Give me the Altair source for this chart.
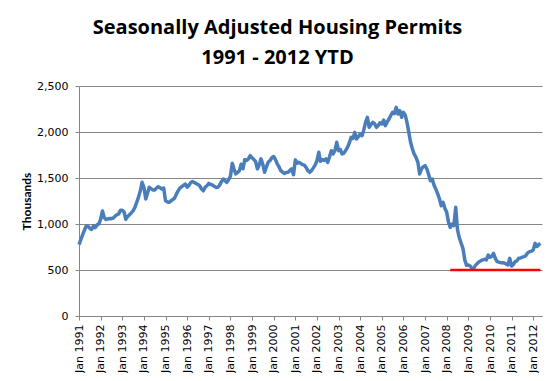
import altair as alt
import pandas as pd

# Monthly seasonally adjusted housing permits (thousands)
y1991 = [777, 830, 880, 930, 975, 975, 955, 940, 978, 960, 990, 1000]
y1992 = [1050, 1142, 1070, 1050, 1055, 1060, 1058, 1065, 1085, 1100, 1110, 1150]
y1993 = [1150, 1130, 1050, 1080, 1100, 1120, 1142, 1180, 1234, 1290, 1360, 1453]
y1994 = [1400, 1272, 1330, 1399, 1385, 1370, 1370, 1390, 1406, 1395, 1380, 1390]
y1995 = [1254, 1240, 1236, 1250, 1265, 1280, 1320, 1360, 1390, 1405, 1420, 1435]
y1996 = [1400, 1420, 1450, 1463, 1450, 1441, 1430, 1415, 1380, 1361, 1400, 1416]
y1997 = [1441, 1430, 1425, 1410, 1398, 1400, 1420, 1460, 1489, 1470, 1453, 1480]
y1998 = [1520, 1660, 1600, 1544, 1560, 1580, 1650, 1600, 1700, 1690, 1708, 1745]
y1999 = [1719, 1700, 1680, 1599, 1640, 1708, 1650, 1562, 1620, 1672, 1690, 1720]
y2000 = [1734, 1700, 1653, 1620, 1580, 1562, 1550, 1560, 1562, 1580, 1599, 1536]
y2001 = [1697, 1660, 1670, 1660, 1645, 1640, 1615, 1580, 1562, 1580, 1610, 1640]
y2002 = [1688, 1779, 1681, 1700, 1690, 1707, 1670, 1730, 1797, 1761, 1800, 1888]
y2003 = [1797, 1810, 1761, 1770, 1800, 1833, 1880, 1942, 1930, 1996, 1924, 1950]
y2004 = [1978, 1960, 2020, 2105, 2159, 2051, 2080, 2105, 2090, 2051, 2070, 2100]
y2005 = [2087, 2130, 2069, 2110, 2141, 2180, 2214, 2200, 2268, 2196, 2232, 2160]
y2006 = [2214, 2180, 2105, 1996, 1888, 1815, 1760, 1725, 1670, 1543, 1600, 1623]
y2007 = [1634, 1598, 1540, 1471, 1489, 1420, 1380, 1330, 1272, 1199, 1236, 1170]
y2008 = [1127, 1018, 964, 1000, 982, 1181, 940, 850, 790, 735, 610, 550]
y2009 = [554, 543, 518, 520, 550, 572, 590, 601, 610, 616, 609, 663]
y2010 = [638, 650, 681, 627, 591, 585, 580, 578, 575, 565, 555, 627]
y2011 = [543, 560, 591, 600, 627, 630, 640, 645, 660, 688, 699, 705]
y2012 = [717, 790, 755, 775, 790]

permits = (y1991 + y1992 + y1993 + y1994 + y1995 + y1996 + y1997 + y1998 +
           y1999 + y2000 + y2001 + y2002 + y2003 + y2004 + y2005 + y2006 +
           y2007 + y2008 + y2009 + y2010 + y2011 + y2012)

dates = pd.date_range("1991-01-01", periods=len(permits), freq="MS").strftime("%Y-%m-%d").tolist()
df = pd.DataFrame({"date": dates, "permits": permits})

floor_dates = ["2008-03-01", "2012-05-01"]
floor_values = [500, 500]
floor = pd.DataFrame({"date": floor_dates, "permits": floor_values})

tick_years = list(range(1991, 2013))
y_ticks = [0, 500, 1000, 1500, 2000, 2500]
title_lines = ["Seasonally Adjusted Housing Permits", "1991 - 2012 YTD"]

xscale = alt.Scale(
    type="utc",
    domain=[alt.DateTime(year=1991, month=1, date=1, utc=True),
            alt.DateTime(year=2012, month=5, date=28, utc=True)],
)
xaxis = alt.Axis(
    values=[alt.DateTime(year=y, month=1, date=1, utc=True) for y in tick_years],
    format="%b %Y",
    labelAngle=270,
    labelFont="DejaVu Sans",
    labelFontSize=11,
    labelColor="black",
    title=None,
    grid=False,
    tickSize=4,
    labelPadding=4,
    labelOverlap=False,
)
yscale = alt.Scale(domain=[0, 2500], nice=False)
yaxis = alt.Axis(
    values=y_ticks,
    format=",d",
    labelFont="DejaVu Sans",
    labelFontSize=11,
    labelColor="black",
    title="Thousands",
    titleFont="Lato",
    titleFontWeight="bold",
    titleFontSize=12,
    titleColor="black",
    titleAngle=270,
    titleX=-53,
    titleY=115,
    titleAlign="center",
    titleBaseline="middle",
    tickSize=4,
    labelPadding=7,
    grid=True,
)

x_enc = alt.X("date:T", scale=xscale, axis=xaxis)
y_enc = alt.Y("permits:Q", scale=yscale, axis=yaxis)

line = alt.Chart(df).mark_line(color="#4A7EBB", strokeWidth=3.5, strokeJoin="round").encode(
    x=x_enc, y=y_enc
)
floor_line = alt.Chart(floor).mark_line(color="#FF0000", strokeWidth=2.5).encode(
    x=x_enc, y=y_enc
)

chart = (
    alt.layer(line, floor_line)
    .properties(
        width=463,
        height=230,
        autosize=alt.AutoSizeParams(type="none"),
        padding={"left": 71, "top": 78, "right": 8, "bottom": 57},
        background="white",
        title=alt.TitleParams(
            text=title_lines,
            font="Open Sans",
            fontSize=20,
            fontWeight="bold",
            color="black",
            lineHeight=30,
            anchor="middle",
            frame="group",
            baseline="bottom",
            dx=-33,
            dy=19.5,
            offset=12,
        ),
    )
    .configure_view(strokeWidth=0)
    .configure_axis(
        domainColor="#868686",
        tickColor="#868686",
        gridColor="#868686",
        gridWidth=1,
        domainWidth=1,
    )
)

chart.save("out.html", embed_options={"renderer": "svg", "actions": False})
